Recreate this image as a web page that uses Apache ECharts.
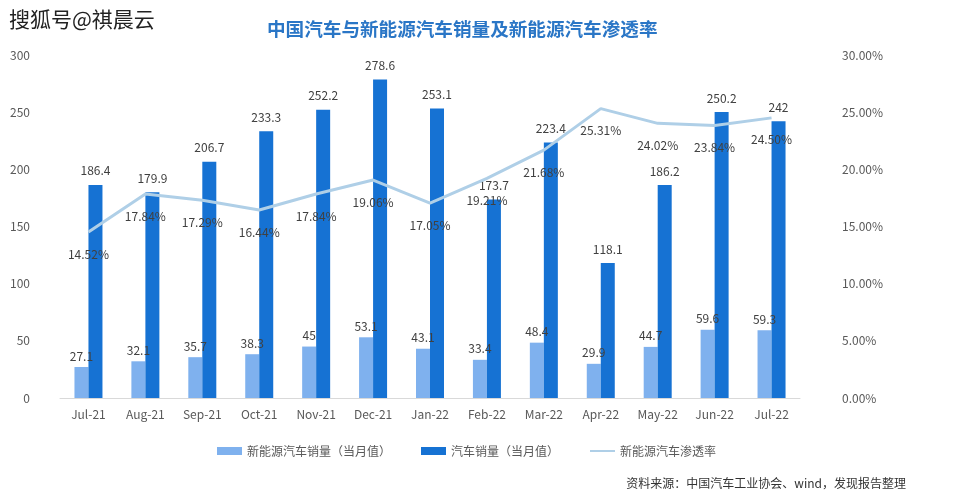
<!DOCTYPE html>
<html>
<head>
<meta charset="utf-8">
<script src="https://cdn.jsdelivr.net/npm/echarts@6/dist/echarts.min.js"></script>
<style>
  body { margin: 0; background: #fff; }
  #chart { width: 966px; height: 500px; }
</style>
</head>
<body>
<div id="chart"></div>
<script>
const months = ['Jul-21', 'Aug-21', 'Sep-21', 'Oct-21', 'Nov-21', 'Dec-21', 'Jan-22', 'Feb-22', 'Mar-22', 'Apr-22', 'May-22', 'Jun-22', 'Jul-22'];
const nevSales = [27.1, 32.1, 35.7, 38.3, 45, 53.1, 43.1, 33.4, 48.4, 29.9, 44.7, 59.6, 59.3];
const carSales = [186.4, 179.9, 206.7, 233.3, 252.2, 278.6, 253.1, 173.7, 223.4, 118.1, 186.2, 250.2, 242];
const nevRate = [14.52, 17.84, 17.29, 16.44, 17.84, 19.06, 17.05, 19.21, 21.68, 25.31, 24.02, 23.84, 24.50];

const fontFamily = '"Noto Sans CJK SC", "Noto Sans", sans-serif';
const chart = echarts.init(document.getElementById('chart'));

chart.setOption({
    textStyle: { fontFamily: fontFamily },
    graphic: [
        {
            type: 'text', left: 8, top: 8,
            style: {
                text: '搜狐号@祺晨云', fontSize: 21, fontFamily: fontFamily,
                fill: '#222', stroke: '#fff', lineWidth: 2
            }
        },
        {
            type: 'text', right: 60, top: 477,
            style: { text: '资料来源：中国汽车工业协会、wind，发现报告整理', fontSize: 12, fontFamily: fontFamily, fill: '#333' }
        }
    ],
    title: {
        text: '中国汽车与新能源汽车销量及新能源汽车渗透率',
        left: 262, top: 15,
        textStyle: { color: '#2a76c6', fontSize: 18.6, fontWeight: 'bold', fontFamily: fontFamily }
    },
    legend: {
        top: 440, left: 212,
        itemGap: 30,
        itemWidth: 25, itemHeight: 8,
        textStyle: { color: '#595959', fontSize: 12 },
        data: [
            { name: '新能源汽车销量（当月值）', icon: 'rect' },
            { name: '汽车销量（当月值）', icon: 'rect' },
            { name: '新能源汽车渗透率', itemStyle: { opacity: 0 } }
        ]
    },
    grid: { left: 60, right: 166, top: 55, bottom: 102 },
    xAxis: {
        type: 'category',
        data: months,
        axisLine: { lineStyle: { color: '#d9d9d9' } },
        axisTick: { show: false },
        axisLabel: { color: '#595959', fontSize: 12, margin: 10 }
    },
    yAxis: [
        {
            type: 'value', min: 0, max: 300, interval: 50,
            splitLine: { show: false },
            axisLabel: { color: '#595959', fontSize: 12, margin: 30 }
        },
        {
            type: 'value', min: 0, max: 30, interval: 5,
            splitLine: { show: false },
            axisLabel: { color: '#595959', fontSize: 12, margin: 42, formatter: v => v.toFixed(2) + '%' }
        }
    ],
    series: [
        {
            name: '新能源汽车销量（当月值）',
            type: 'bar',
            data: nevSales,
            barWidth: 14,
            barGap: '0%',
            itemStyle: { color: '#7fb1ee' },
            label: { show: true, position: 'top', color: '#404040', fontSize: 12 }
        },
        {
            name: '汽车销量（当月值）',
            type: 'bar',
            data: carSales,
            barWidth: 14,
            itemStyle: { color: '#1672d3' },
            label: { show: true, position: 'top', distance: 8, color: '#404040', fontSize: 12 }
        },
        {
            name: '新能源汽车渗透率',
            type: 'line',
            yAxisIndex: 1,
            data: nevRate,
            symbol: 'circle',
            symbolSize: 0,
            z: 5,
            lineStyle: { color: '#afcfe7', width: 3 },
            itemStyle: { color: '#afcfe7' },
            label: {
                show: true, position: 'bottom', distance: 16,
                color: '#404040', fontSize: 12,
                formatter: p => p.value.toFixed(2) + '%'
            }
        }
    ]
});
</script>
</body>
</html>
